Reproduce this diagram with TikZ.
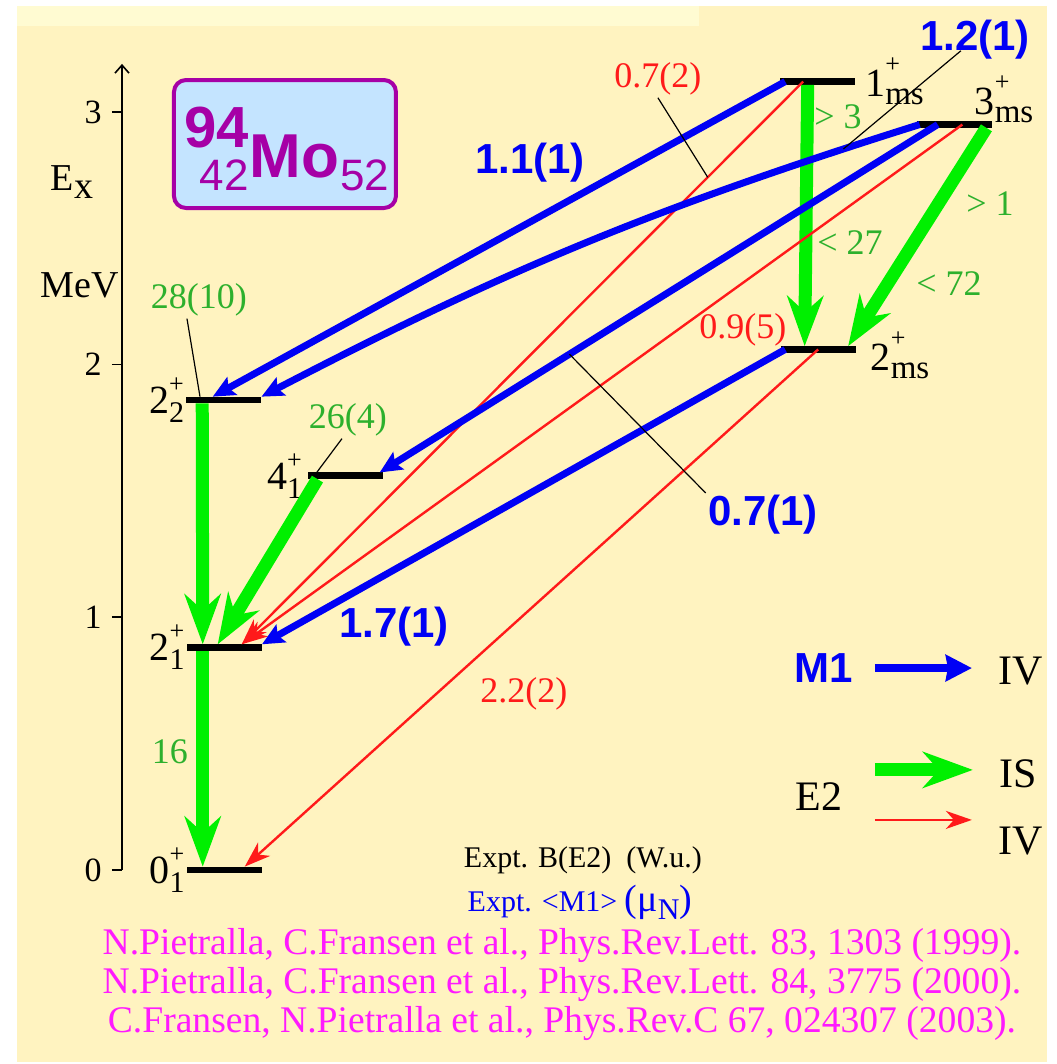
\documentclass[tikz,border=0pt]{standalone}
\usepackage{fontspec}
\setmainfont{Liberation Serif}
\newfontfamily\timesfont{Liberation Serif}
\newfontfamily\arialfont{Liberation Sans}
\usepackage{xcolor}
\usepackage{tikz}
\usetikzlibrary{arrows.meta, positioning, calc}
\definecolor{paperyellow}{HTML}{FFF3C0}
\definecolor{stripyellow}{HTML}{FFFBD2}
\definecolor{isgreen}{HTML}{00F000}
\definecolor{labelgreen}{HTML}{2DB02D}
\definecolor{moneblue}{HTML}{0000F5}
\definecolor{ivred}{HTML}{FF1A1A}
\definecolor{nucblue}{HTML}{C4E4FF}
\definecolor{nucpurple}{HTML}{A600A6}
\definecolor{refmagenta}{HTML}{FF1AFF}

\newcommand{\lvltxt}[2]{#1\rlap{\raisebox{10.5pt}{\fontsize{13}{13}\selectfont +}}\raisebox{-4.5pt}{\fontsize{15}{15}\selectfont #2}}
\newcommand{\mstxt}[1]{#1\rlap{\raisebox{12pt}{\fontsize{13}{13}\selectfont +}}\raisebox{-4pt}{\fontsize{16.5}{16.5}\selectfont ms}}

\begin{document}
\begin{tikzpicture}[
    x=0.5pt, y=126.35pt,
    lvl/.style={fill=black, minimum width=37.5pt, minimum height=3.3pt, inner sep=0pt, outer sep=0pt},
    levlab/.style={font=\timesfont\fontsize{20}{20}\selectfont, inner sep=0pt},
    ticklab/.style={font=\timesfont\fontsize{17}{17}\selectfont, inner sep=0pt},
    mone/.style={-{Stealth[length=11pt,width=10pt,inset=2pt]}, line width=3.5pt, moneblue},
    eis/.style={-{Stealth[length=25pt,width=18pt,inset=8pt]}, line width=6.5pt, isgreen},
    eiv/.style={-{Stealth[length=13pt,width=9pt,inset=4pt]}, line width=1.2pt, ivred},
    leader/.style={line width=0.6pt, black},
    mlab/.style={font=\arialfont\bfseries\fontsize{21}{21}\selectfont, text=moneblue, inner sep=1pt},
    glab/.style={font=\timesfont\fontsize{18}{18}\selectfont, text=labelgreen, inner sep=1pt},
    rlab/.style={font=\timesfont\fontsize{18}{18}\selectfont, text=ivred, inner sep=1pt},
    keylab/.style={font=\timesfont\fontsize{21}{21}\selectfont},
    nuc/.style={text=nucpurple, inner sep=0pt},
]
\useasboundingbox (0,-0.768) rectangle (1057,3.443);
\fill[paperyellow] (17,-0.760) rectangle (1047,3.419);
\fill[stripyellow] (17,3.340) rectangle (699,3.419);

\draw[line width=0.8pt, -{Straight Barb[length=4pt,width=7pt]}] (122,0) -- (122,3.19);
\foreach \e in {0,1,2,3} {
  \draw[line width=0.8pt] (112,\e) -- (122,\e);
  \node[ticklab, left=5pt] (tick\e) at (112,\e) {\e};
}
\node[ticklab, font=\timesfont\fontsize{19}{19}\selectfont] (exlab) at (72,2.723) {E\raisebox{-4pt}{x}};
\node[ticklab, font=\timesfont\fontsize{19}{19}\selectfont] (mevlab) at (80,2.315) {MeV};

\node[draw=nucpurple, line width=2pt, fill=nucblue, rounded corners=6pt,
      minimum width=111pt, minimum height=64pt] (mobox) at (285,2.873) {};
\node[nuc, font=\arialfont\bfseries\fontsize{31}{31}\selectfont, anchor=base] (mosym) at (294.5,2.742) {Mo};
\node[nuc, font=\arialfont\fontsize{22}{22}\selectfont, anchor=base west] (moN) at ([yshift=-6.5pt]mosym.base east) {52};
\node[nuc, font=\arialfont\fontsize{22}{22}\selectfont, anchor=base east] (moZ) at ([yshift=-6.5pt]mosym.base west) {42};
\node[nuc, font=\arialfont\bfseries\fontsize{29}{29}\selectfont, anchor=base east] (moA) at ([yshift=15pt]mosym.base west) {94};

\node[lvl] (s01) at (224.5,0)    {};
\node[lvl] (s21) at (224.5,0.88) {};
\node[lvl] (s41) at (346,1.56)   {};
\node[lvl] (s22) at (224,1.86)   {};
\node[lvl] (ms2) at (819,2.06)   {};
\node[lvl] (ms3) at (955,2.95)   {};
\node[lvl] (ms1) at (817.5,3.12) {};
\node[levlab, left=1pt of s01] (t01) {\lvltxt{0}{1}};
\node[levlab, left=1pt of s21] (t21) {\lvltxt{2}{1}};
\node[levlab, left=3pt of s41] (t41) {\lvltxt{4}{1}};
\node[levlab, left=1pt of s22] (t22) {\lvltxt{2}{2}};
\node[levlab, right=7pt of ms2, yshift=-3pt] (tms2) {\mstxt{2}};
\node[levlab, right=5pt of ms1] (tms1) {\mstxt{1}};
\node[levlab, anchor=south west] (tms3) at ([xshift=-9pt,yshift=-1pt]ms3.north east) {\mstxt{3}};

\draw[eis] ($(s22.south west)!.21!(s22.south east)$) -- ($(s21.north west)!.21!(s21.north east)$);
\draw[eis] ($(s21.south west)!.21!(s21.south east)$) -- ($(s01.north west)!.21!(s01.north east)$);
\draw[eis] ($(s41.south west)!.12!(s41.south east)$) -- ($(s21.north west)!.41!(s21.north east)$);
\draw[eis] ($(ms1.south west)!.37!(ms1.south east)$) -- ($(ms2.north west)!.31!(ms2.north east)$);
\draw[eis] ($(ms3.south west)!.92!(ms3.south east)$) -- ($(ms2.north west)!.89!(ms2.north east)$);

\draw[eiv] ($(ms1.west)!.31!(ms1.east)$) -- coordinate[pos=.17] (p072) ($(s21.north west)!.73!(s21.north east)$);
\draw[eiv] ($(ms3.west)!.60!(ms3.east)$) -- ($(s21.north west)!.73!(s21.north east)$);
\draw[eiv] ($(ms2.west)!.49!(ms2.east)$) -- ($(s01.north west)!.77!(s01.north east)$);

\draw[mone] ($(ms1.west)!.07!(ms1.east)$) -- ($(s22.north west)!.35!(s22.north east)$);
\draw[mone] ($(ms3.west)!.03!(ms3.east)$) to[bend right=5] coordinate[pos=.1] (p12) (s22.north east);
\draw[mone] ($(ms3.west)!.27!(ms3.east)$) -- coordinate[pos=.66] (p071) ($(s41.north west)!.95!(s41.north east)$);
\draw[mone] ($(ms2.west)!.05!(ms2.east)$) -- (s21.north east);

\node[rlab] (r072) at (658,3.130) {0.7(2)};
\draw[leader] (r072.south) -- (p072);
\node[mlab] (m12) at (975,3.285) {1.2(1)};
\draw[leader] ([xshift=-7pt]m12.base) -- (p12);
\node[glab] (g2810) at (199,2.256) {28(10)};
\draw[leader] ([xshift=-6pt]g2810.south) -- ($(s22.north west)!.18!(s22.north east)$);
\node[glab] (g264) at (348,1.781) {26(4)};
\draw[leader] ([xshift=-3pt]g264.south) -- ($(s41.north west)!.11!(s41.north east)$);
\node[mlab] (m071) at (763,1.405) {0.7(1)};
\draw[leader] (m071.north west) -- (p071);

\node[mlab] (m11) at (530,2.798) {1.1(1)};
\node[mlab] (m17) at (394,0.962) {1.7(1)};
\node[glab] (g16) at (170,0.467) {16};
\node[glab] (g3) at (838,2.980) {> 3};
\node[glab] (g27) at (850,2.481) {< 27};
\node[glab] (g1) at (990,2.636) {> 1};
\node[glab] (g72) at (949,2.319) {< 72};
\node[rlab] (r095) at (743,2.137) {0.9(5)};
\node[rlab] (r22) at (524,0.696) {2.2(2)};

\node[mlab] (km1) at (824,0.799) {M1};
\coordinate (kb0) at (875,0.799);
\coordinate (kb1) at (972,0.799);
\draw[mone, line width=4pt, -{Stealth[length=13pt,width=13pt,inset=1pt]}] (kb0) -- (kb1);
\node[keylab] (kiv1) at (1021,0.787) {IV};
\node[keylab] (ke2) at (819,0.289) {E2};
\coordinate (kg0) at (875,0.396);
\coordinate (kg1) at (973,0.396);
\draw[eis] (kg0) -- (kg1);
\node[keylab] (kis) at (1018,0.380) {IS};
\coordinate (kr0) at (875,0.198);
\coordinate (kr1) at (972,0.198);
\draw[eiv] (kr0) -- (kr1);
\node[keylab] (kiv2) at (1021,0.115) {IV};

\node[font=\timesfont\fontsize{15}{15}\selectfont] (be2) at (583,0.040) {Expt. B(E2)\ \ (W.u.)};
\node[font=\timesfont\fontsize{15}{15}\selectfont, text=moneblue] (bm1) at (580,-0.127)
  {Expt. <M1> {\fontsize{19}{19}\selectfont(μ\raisebox{-4pt}{\fontsize{15}{15}\selectfont N})}};
\node[font=\timesfont\fontsize{18.8}{19.5}\selectfont, text=refmagenta, align=center] (refs) at (562,-0.455)
  {N.Pietralla, C.Fransen et al., Phys.Rev.Lett. 83, 1303 (1999).\\
   N.Pietralla, C.Fransen et al., Phys.Rev.Lett. 84, 3775 (2000).\\
   C.Fransen, N.Pietralla et al., Phys.Rev.C 67, 024307 (2003).};
\end{tikzpicture}
\end{document}
